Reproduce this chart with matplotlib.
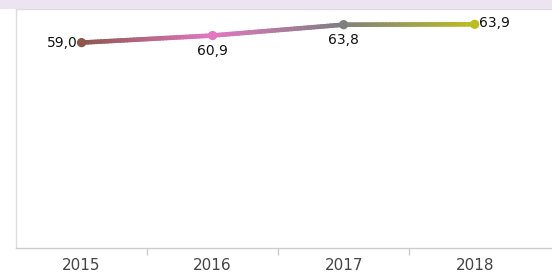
import matplotlib.pyplot as plt
import numpy as np
from matplotlib.collections import LineCollection
from matplotlib.colors import to_rgb
from matplotlib.patches import Rectangle

years = ["2015", "2016", "2017", "2018"]
values = [59.0, 60.9, 63.8, 63.9]
labels = ["59,0", "60,9", "63,8", "63,9"]
colors = ["#8c564b", "#e377c2", "#7f7f7f", "#bcbd22"]

fig = plt.figure(figsize=(5.52, 2.72), dpi=100)
fig.patch.set_facecolor("white")
fig.patches.append(Rectangle((0, 1 - 9 / 272), 1, 9 / 272, transform=fig.transFigure,
                             facecolor="#ece5f1", edgecolor="none", zorder=0))

ax = fig.add_axes([16 / 552, 24 / 272, 1 - 16 / 552, 1 - 33 / 272])
x = np.arange(len(years))

# gradient line: split each segment into short pieces for colour blending
segs, cols = [], []
n = 40
for i in range(len(x) - 1):
    c0, c1 = np.array(to_rgb(colors[i])), np.array(to_rgb(colors[i + 1]))
    for k in range(n):
        t0, t1 = k / n, (k + 1) / n
        p0 = (x[i] + (x[i + 1] - x[i]) * t0, values[i] + (values[i + 1] - values[i]) * t0)
        p1 = (x[i] + (x[i + 1] - x[i]) * t1, values[i] + (values[i + 1] - values[i]) * t1)
        segs.append([p0, p1])
        cols.append(c0 + (c1 - c0) * (t0 + t1) / 2)
ax.add_collection(LineCollection(segs, colors=cols, linewidths=3.3, capstyle="round", zorder=2))
ax.scatter(x, values, s=32, c=colors, zorder=3)

offsets = [(-3, 0, "right", "center"), (0, -6, "center", "top"),
           (0, -6, "center", "top"), (3, 1, "left", "center")]
for xi, v, lab, (dx, dy, ha, va) in zip(x, values, labels, offsets):
    ax.annotate(lab, (xi, v), xytext=(dx, dy), textcoords="offset points",
                ha=ha, va=va, fontsize=10, color="#111111")

ax.set_xlim(-0.5, 3.59)
ax.set_ylim(4, 68)
ax.set_xticks(x)
ax.set_xticklabels(years, fontsize=11, color="#444444")
ax.set_xticks(x[:-1] + 0.5, minor=True)
ax.tick_params(axis="x", which="major", length=0, pad=7)
ax.tick_params(axis="x", which="minor", length=5, color="#cccccc", width=1)
ax.set_yticks([])
for s in ax.spines.values():
    s.set_color("#dddddd")
    s.set_linewidth(1)
ax.spines["bottom"].set_color("#cccccc")
ax.spines["right"].set_visible(False)

fig.savefig("out.png", dpi=100)
